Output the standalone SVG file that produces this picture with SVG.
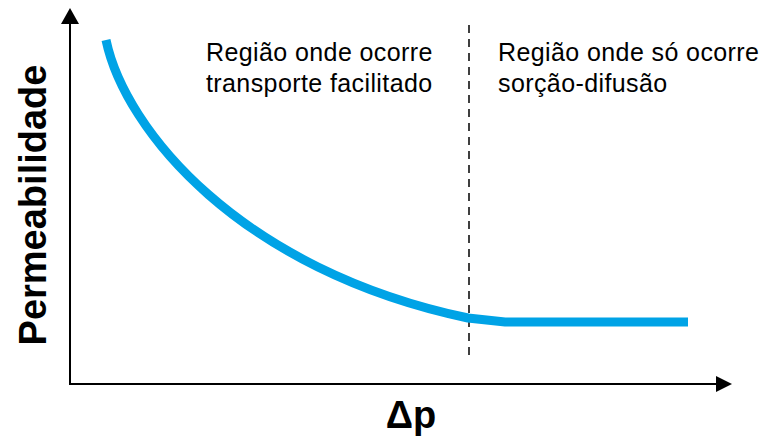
<svg xmlns="http://www.w3.org/2000/svg" width="762" height="441" viewBox="0 0 762 441">
<style>
.ax{stroke:#000;stroke-width:2;fill:none}
.lbl{font-family:"Liberation Sans",Arial,sans-serif;font-size:25px;letter-spacing:0.4px;fill:#000}
.big{font-family:"Liberation Sans",Arial,sans-serif;font-weight:bold;fill:#000}
</style>
<rect width="762" height="441" fill="#fff"/>
<g id="axes">
<line class="ax" x1="70" y1="22" x2="70" y2="385"/>
<line class="ax" x1="69" y1="384" x2="717" y2="384"/>
<polygon points="70,8 61,24 79,24" fill="#000"/>
<polygon points="732,384 716,376 716,392" fill="#000"/>
</g>
<g id="divider">
<line x1="469" y1="25" x2="469" y2="358" stroke="#000" stroke-width="1.5" stroke-dasharray="8,6"/>
</g>
<g id="curve">
<path d="M106,40 C125,130 240,270 468,318 L505,322 L688,322" fill="none" stroke="#00a3e6" stroke-width="9"/>
</g>
<g id="labels">
<text class="lbl" x="206" y="61">Região onde ocorre</text>
<text class="lbl" x="206" y="92">transporte facilitado</text>
<text class="lbl" x="498" y="61">Região onde só ocorre</text>
<text class="lbl" x="498" y="92">sorção-difusão</text>
<text class="big" font-size="38" transform="translate(46,205) rotate(-90)" text-anchor="middle">Permeabilidade</text>
<text class="big" font-size="38" x="411" y="428" text-anchor="middle">Δp</text>
</g>
</svg>
